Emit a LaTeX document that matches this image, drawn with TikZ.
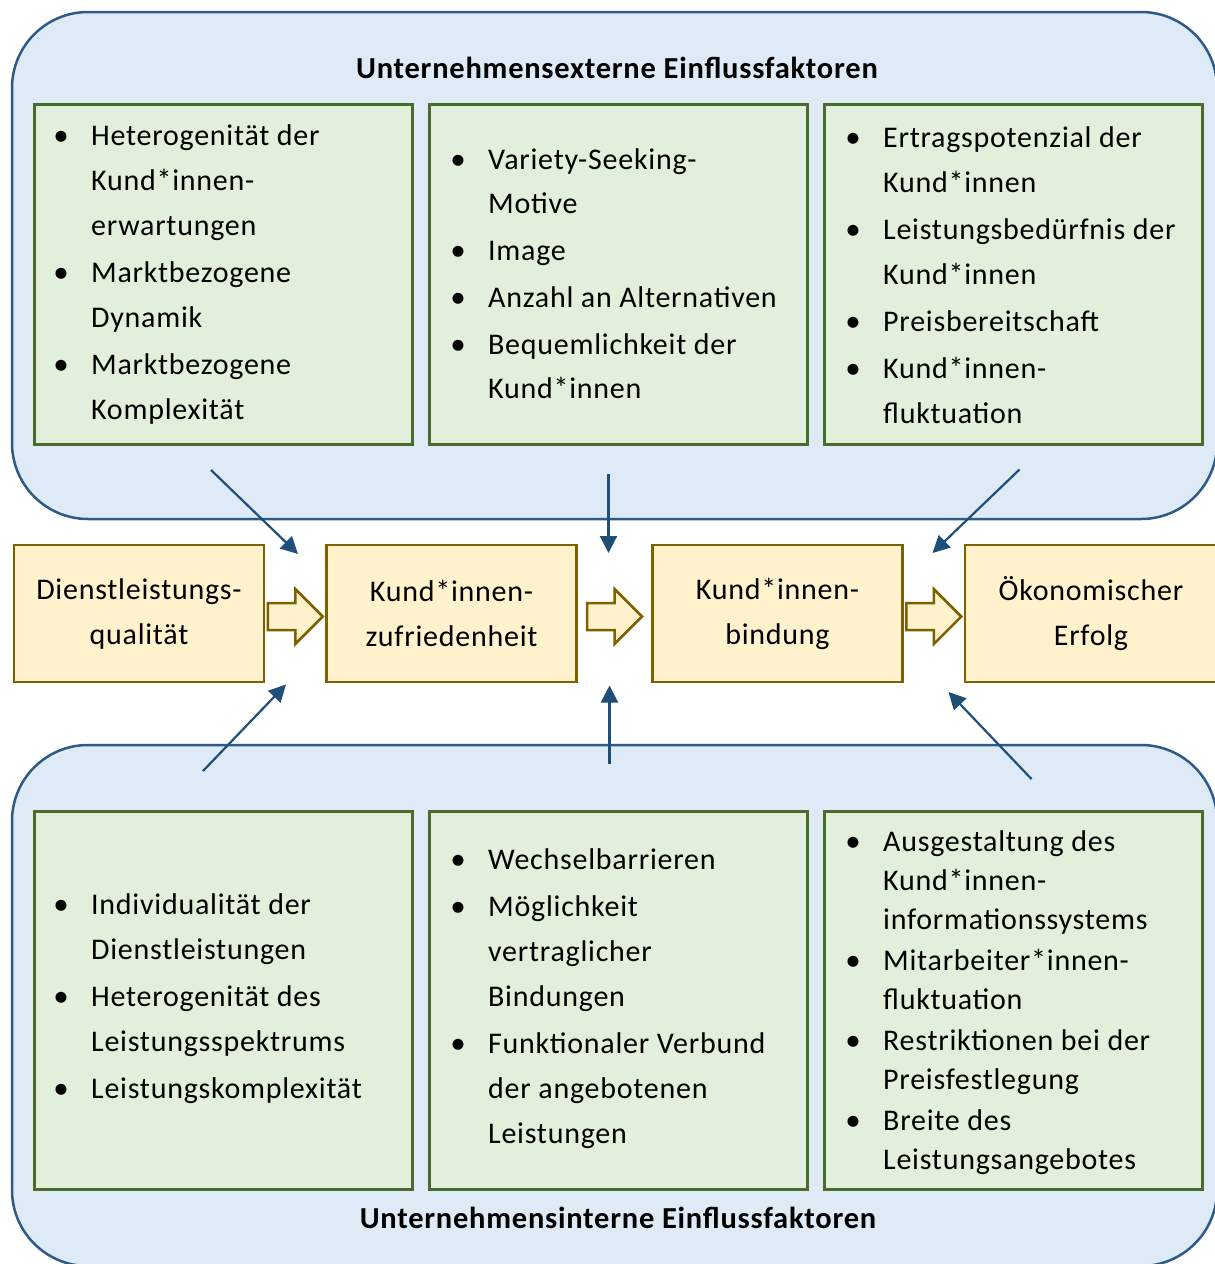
\documentclass[tikz,border=0pt]{standalone}
\usepackage{fontspec}
\setmainfont{Carlito}[LetterSpace=2.5]
\usetikzlibrary{arrows.meta,calc}

\definecolor{regfill}{HTML}{DEEAF6}
\definecolor{regline}{HTML}{2E5A88}
\definecolor{factfill}{HTML}{E2EFDA}
\definecolor{factline}{HTML}{4A6B2E}
\definecolor{stagefill}{HTML}{FFF2CC}
\definecolor{stageline}{HTML}{7F6000}
\definecolor{infl}{HTML}{1F4E79}

% bullet hanging to the left of a list line
\newcommand\bul{\llap{\makebox[30pt][c]{\fontsize{31}{31}\selectfont •}\hspace{15pt}}}
\newcommand\nextitem{\\[2pt]}

\newcommand\flowarrow[2]{%
  \coordinate (fa) at ($(#1.east)!0.5!(#2.west)+(0,3)$);
  \draw[flow] ($(fa)+(-27.5,-13.5)$) -- ++(27.5,0) -- ++(0,-14) -- ($(fa)+(27.5,0)$)
    -- ($(fa)+(0,27.5)$) -- ++(0,-14) -- ($(fa)+(-27.5,13.5)$) -- cycle;}

\begin{document}
\begin{tikzpicture}[x=1pt,y=-1pt,
  region/.style={draw=regline,fill=regfill,line width=2.5pt,rounded corners=76pt},
  factor/.style={draw=factline,fill=factfill,line width=2.8pt,minimum width=378pt,
    minimum height=340pt,inner sep=0pt,anchor=north west},
  factlist/.style={align=left,anchor=west,inner sep=0pt,font=\fontsize{30}{45}\selectfont},
  stage/.style={draw=stageline,fill=stagefill,line width=2.8pt,minimum width=250pt,
    minimum height=137pt,align=center,inner sep=0pt,font=\fontsize{30}{45}\selectfont},
  flow/.style={draw=stageline,fill=stagefill,line width=2.5pt,line join=miter},
  infarrow/.style={draw=infl,line width=2.2pt,-{Triangle[length=17pt,width=17pt]}},
  heading/.style={font=\bfseries\fontsize{30.5}{34}\selectfont,inner sep=0pt}]

\useasboundingbox (0,0) rectangle (1215,1264);
\clip (0,0) rectangle (1215,1264);

% the two surrounding areas
\draw[region] (12,12) rectangle (1217,519);
\draw[region] (12,745) rectangle (1217,1266);

\node[heading] (exthead) at (617,68) {Unternehmensexterne Einflussfaktoren};
\node[heading] (inthead) at (618,1218) {Unternehmensinterne Einflussfaktoren};

% external factors
\node[factor] (tl) at (33,103) {};
\node[factor] (tm) at (428,103) {};
\node[factor] (tr) at (823,103) {};
% internal factors
\node[factor,minimum height=378pt] (bl) at (33,810) {};
\node[factor,minimum height=378pt] (bm) at (428,810) {};
\node[factor,minimum height=378pt] (br) at (823,810) {};

\node[factlist] (tltext) at (91,274.5) {\bul Heterogenität der\\Kund*innen-\\erwartungen\nextitem
  \bul Marktbezogene\\Dynamik\nextitem \bul Marktbezogene\\Komplexität};
\node[factlist,font=\fontsize{30}{44}\selectfont] (tmtext) at (488,273.5) {\bul Variety-Seeking-\\Motive\\[3pt]
  \bul Image\\[3pt] \bul Anzahl an Alternativen\\[3pt] \bul Bequemlichkeit der\\Kund*innen};
\node[factlist] (trtext) at (883,275) {\bul Ertragspotenzial der\\Kund*innen\nextitem
  \bul Leistungsbedürfnis der\\Kund*innen\nextitem \bul Preisbereitschaft\nextitem
  \bul Kund*innen-\\fluktuation};

\node[factlist] (bltext) at (91,999) {\bul Individualität der\\Dienstleistungen\nextitem
  \bul Heterogenität des\\Leistungsspektrums\nextitem \bul Leistungskomplexität};
\node[factlist] (bmtext) at (488,999) {\bul Wechselbarrieren\nextitem \bul Möglichkeit\\vertraglicher\\Bindungen\nextitem
  \bul Funktionaler Verbund\\der angebotenen\\Leistungen};
\node[factlist,font=\fontsize{30}{39}\selectfont] (brtext) at (883,1003) {\bul Ausgestaltung des\\Kund*innen-\\informationssystems\nextitem
  \bul Mitarbeiter*innen-\\fluktuation\nextitem \bul Restriktionen bei der\\Preisfestlegung\nextitem
  \bul Breite des\\Leistungsangebotes};

% the chain of effects
\node[stage] (dq) at (139,613.5) {Dienstleistungs-\\qualität};
\node[stage] (kz) at (451.5,613.5) {Kund*innen-\\zufriedenheit};
\node[stage] (kb) at (777.5,613.5) {Kund*innen-\\bindung};
\node[stage,minimum width=252pt] (oe) at (1091,613.5) {Ökonomischer\\Erfolg};

\flowarrow{dq}{kz}
\flowarrow{kz}{kb}
\flowarrow{kb}{oe}

% influence arrows
\coordinate (a1s) at (211,470);   \coordinate (a1e) at (298,554);
\coordinate (a2s) at (608.5,474); \coordinate (a2e) at (608.5,553);
\coordinate (a3s) at (1019.5,469.5); \coordinate (a3e) at (932.5,553);
\coordinate (a4s) at (203,771);   \coordinate (a4e) at (286,684.5);
\coordinate (a5s) at (609.5,764); \coordinate (a5e) at (609.5,685.5);
\coordinate (a6s) at (1031.5,779); \coordinate (a6e) at (948.5,692);
\foreach \i in {1,...,6} \draw[infarrow] (a\i s) -- (a\i e);

\end{tikzpicture}
\end{document}
